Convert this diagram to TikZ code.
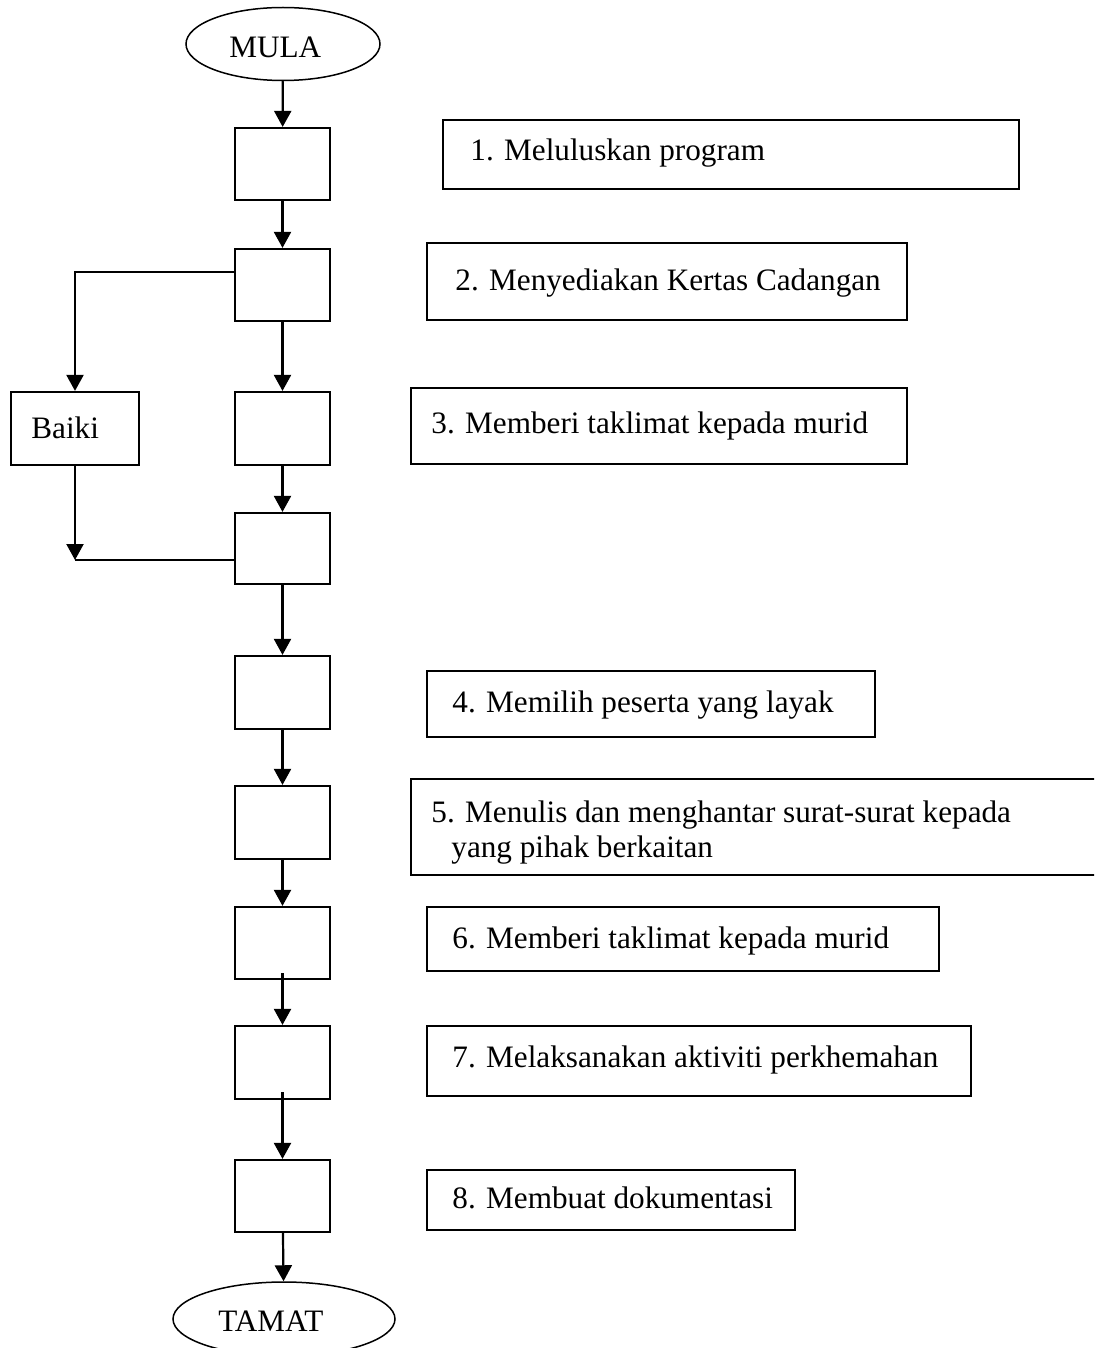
\documentclass[tikz,border=0pt]{standalone}
\usepackage{fontspec}
\setmainfont{Liberation Serif}
\usetikzlibrary{arrows.meta,shapes.geometric,fit}

\tikzset{
  x=0.5pt, y=-0.5pt,
  every node/.style={font=\fontsize{15.6pt}{19pt}\selectfont},
  flowbox/.style={draw, line width=1.1pt, inner sep=0pt, rectangle},
  textbox/.style={draw, line width=1pt, inner sep=0pt, rectangle},
  terminal/.style={draw, ellipse, line width=0.75pt, inner sep=0pt},
  lbl/.style={anchor=base west, inner sep=0pt},
  arr/.style={line width=1.1pt, -{Triangle[length=8pt,width=8.5pt]}},
  conn/.style={line width=1.1pt},
}

\begin{document}
\begin{tikzpicture}
  \useasboundingbox (0,0) rectangle (1094,1348);
  \clip (0,0) rectangle (1094,1348);

  % start / end terminals
  \node[terminal, minimum width=97pt, minimum height=36.5pt] (mula) at (283,44) {};
  \node[lbl] (mulatxt) at (229,58) {MULA};
  \node[terminal, minimum width=111pt, minimum height=37pt] (tamat) at (284,1319) {};
  \node[lbl] (tamattxt) at (218,1331) {TAMAT};

  % main column of process boxes
  \node[flowbox, fit={(235,128) (330,200)}] (b1) {};
  \node[flowbox, fit={(235,249) (330,321)}] (b2) {};
  \node[flowbox, fit={(235,392) (330,465)}] (b3) {};
  \node[flowbox, fit={(235,513) (330,584)}] (b4) {};
  \node[flowbox, fit={(235,656) (330,729)}] (b5) {};
  \node[flowbox, fit={(235,786) (330,859)}] (b6) {};
  \node[flowbox, fit={(235,907) (330,979)}] (b7) {};
  \node[flowbox, fit={(235,1026) (330,1099)}] (b8) {};
  \node[flowbox, fit={(235,1160) (330,1232)}] (b9) {};

  % correction branch
  \node[flowbox, fit={(11,392) (139,465)}] (baiki) {};
  \node[lbl] (baikitxt) at (31,438) {Baiki};

  % description boxes
  \node[textbox, fit={(443,120) (1019,189)}] (t1) {};
  \node[lbl] (l1) at (470,161) {1. Meluluskan program};
  \node[textbox, fit={(427,243) (907,320)}] (t2) {};
  \node[lbl] (l2) at (455,290) {2. Menyediakan Kertas Cadangan};
  \node[textbox, fit={(411,388) (907,464)}] (t3) {};
  \node[lbl] (l3) at (431,433) {3. Memberi taklimat kepada murid};
  \node[textbox, fit={(427,671) (875,737)}] (t4) {};
  \node[lbl] (l4) at (452,712) {4. Memilih peserta yang layak};
  \node[textbox, fit={(411,779) (1120,875)}] (t5) {};
  \node[lbl] (l5a) at (431,822) {5. Menulis dan menghantar surat-surat kepada};
  \node[lbl] (l5b) at (451,857) {yang pihak berkaitan};
  \node[textbox, fit={(427,907) (939,971)}] (t6) {};
  \node[lbl] (l6) at (452,948) {6. Memberi taklimat kepada murid};
  \node[textbox, fit={(427,1026) (971,1096)}] (t7) {};
  \node[lbl] (l7) at (452,1067) {7. Melaksanakan aktiviti perkhemahan};
  \node[textbox, fit={(427,1170) (795,1230)}] (t8) {};
  \node[lbl] (l8) at (452,1208) {8. Membuat dokumentasi};

  % main flow
  \draw[arr] (mula) -- (b1);
  \draw[arr] (b1) -- (b2);
  \draw[arr] (b2) -- (b3);
  \draw[arr] (b3) -- (b4);
  \draw[arr] (b4) -- (b5);
  \draw[arr] (b5) -- (b6);
  \draw[arr] (b6) -- (b7);
  \draw[arr] ([yshift=3.5pt]b7.south) -- (b8.north);
  \draw[arr] ([yshift=4pt]b8.south) -- (b9.north);
  \draw[arr] (b9) -- (tamat);

  % branch to correction and back
  \coordinate (split) at (75,272);
  \coordinate (join) at (75,560);
  \draw[arr] (b2.west |- split) -- (split) -- (baiki.north);
  \draw[arr] (baiki.south) -- (join);
  \draw[conn] (join) -- (join -| b4.west);
\end{tikzpicture}
\end{document}
